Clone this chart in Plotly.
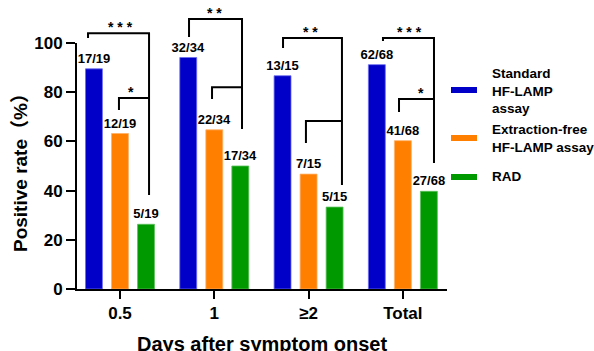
import plotly.graph_objects as go

# ---------------- data ----------------
categories = ["0.5", "1", "≥2", "Total"]
series_names = ["Standard<br>HF-LAMP<br>assay", "Extraction-free<br>HF-LAMP assay", "RAD"]
standard_vals = [89.5, 94.1, 86.7, 91.2]
extraction_vals = [63.2, 64.7, 46.7, 60.3]
rad_vals = [26.3, 50.0, 33.3, 39.7]
standard_labels = ["17/19", "32/34", "13/15", "62/68"]
extraction_labels = ["12/19", "22/34", "7/15", "41/68"]
rad_labels = ["5/19", "17/34", "5/15", "27/68"]
y_ticks = [0, 20, 40, 60, 80, 100]
sig_marks = ["* * *", "*", "* *", "", "* *", "", "* * *", "*"]
y_title = "Positive rate（%）"
x_title = "Days after symptom onset"

# ---------------- style ----------------
colors = ["#0000C8", "#FF7F00", "#009900"]
edge_colors = ["#6C6CF0", "#FFB066", "#5CC05C"]
FONT = "Arial, 'Liberation Sans', 'Noto Sans CJK SC', sans-serif"

W, H = 594, 351
M_L, M_R, M_T, M_B = 77, 147, 5, 62
PLOT_H = H - M_T - M_B
PX_PER_UNIT = 2.46
Y_DOMAIN_TOP = (100 * PX_PER_UNIT) / PLOT_H
Y2_MAX = PLOT_H / PX_PER_UNIT
X_RANGE = [-0.456, 3.468]

fig = go.Figure()
x_pos = list(range(len(categories)))
for vals, labels, name, c, ec in zip(
    [standard_vals, extraction_vals, rad_vals],
    [standard_labels, extraction_labels, rad_labels],
    series_names, colors, edge_colors,
):
    fig.add_trace(go.Bar(
        x=x_pos, y=vals, name=name, text=labels,
        textposition="outside", cliponaxis=False, constraintext="none",
        textangle=0,
        textfont=dict(family=FONT, size=13, color="black", weight="bold"),
        marker=dict(color=c, line=dict(color=ec, width=0.8)),
        showlegend=False,
    ))

# significance brackets: (x_left, y_left_bottom, y_top, x_right, y_right_bottom, star_x)
brackets = [
    (-0.339, 102.0, 104.0, 0.308, 38.2, 0.0),
    (-0.011, 72.8, 77.6, 0.308, 77.6, 0.117),
    (0.732, 102.4, 109.8, 1.294, 65.0, 1.007),
    (0.976, 77.2, 82.0, 1.294, 82.0, None),
    (1.729, 98.0, 102.0, 2.354, 42.3, 2.025),
    (1.972, 59.3, 68.3, 2.354, 68.3, None),
    (2.789, 100.8, 102.0, 3.33, 51.2, 3.07),
    (2.959, 72.0, 77.2, 3.33, 77.2, 3.19),
]
annotations = []
for (xl, yl, yt, xr, yr, sx), mark in zip(brackets, sig_marks):
    fig.add_trace(go.Scatter(
        x=[xl, xl, xr, xr], y=[yl, yt, yt, yr], mode="lines",
        line=dict(color="black", width=2), yaxis="y2",
        showlegend=False, hoverinfo="skip",
    ))
    if mark and sx is not None:
        annotations.append(dict(
            x=sx, y=yt, xref="x", yref="y2", text=mark, showarrow=False,
            yanchor="bottom", xanchor="center", yshift=-4,
            font=dict(family=FONT, size=14, color="black", weight="bold"),
        ))

def px_to_paper_x(p):
    return (p - M_L) / (W - M_L - M_R)

def px_to_paper_y(q):
    return (H - M_B - q) / PLOT_H

# manual legend
shapes = []
legend_rows = [(90, 91), (138, 138), (177, 176)]
for (sw_y, tx_y), name, c in zip(legend_rows, series_names, colors):
    shapes.append(dict(
        type="rect", xref="paper", yref="paper",
        x0=px_to_paper_x(451), x1=px_to_paper_x(477),
        y0=px_to_paper_y(sw_y + 3), y1=px_to_paper_y(sw_y - 3),
        fillcolor=c, line=dict(width=0),
    ))
    annotations.append(dict(
        x=px_to_paper_x(490), y=px_to_paper_y(tx_y), xref="paper", yref="paper",
        text=name, showarrow=False, xanchor="left", yanchor="middle", align="left",
        font=dict(family=FONT, size=13.5, color="black", weight="bold"),
    ))

# axis titles as annotations
annotations.append(dict(
    x=px_to_paper_x(20), y=px_to_paper_y(168), xref="paper", yref="paper",
    text=y_title, textangle=-90, showarrow=False,
    xanchor="center", yanchor="middle",
    font=dict(family=FONT, size=19, color="black", weight="bold"),
))
annotations.append(dict(
    x=0.5, y=px_to_paper_y(344), xref="paper", yref="paper",
    text=x_title, showarrow=False, xanchor="center", yanchor="middle",
    font=dict(family=FONT, size=20, color="black", weight="bold"),
))

fig.update_layout(
    width=W, height=H,
    margin=dict(l=M_L, r=M_R, t=M_T, b=M_B, autoexpand=False),
    paper_bgcolor="white", plot_bgcolor="rgba(0,0,0,0)",
    barmode="group", bargap=0.172, bargroupgap=0.35,
    font=dict(family=FONT, color="black"),
    xaxis=dict(
        range=X_RANGE, tickvals=x_pos, ticktext=categories,
        showline=True, linecolor="black", linewidth=2, automargin=False,
        ticks="outside", ticklen=8, tickwidth=2, tickcolor="black",
        showgrid=False, zeroline=False,
        tickfont=dict(family=FONT, size=17, color="black", weight="bold"),
    ),
    yaxis=dict(
        domain=[0, Y_DOMAIN_TOP], range=[0, 100], tickvals=y_ticks,
        showline=True, linecolor="black", linewidth=2, automargin=False,
        ticks="outside", ticklen=9, tickwidth=2, tickcolor="black",
        showgrid=False, zeroline=False,
        tickfont=dict(family=FONT, size=17, color="black", weight="bold"),
    ),
    yaxis2=dict(domain=[0, 1], range=[0, Y2_MAX], anchor="x", visible=False,
                showgrid=False, zeroline=False, automargin=False),
    annotations=annotations,
    shapes=shapes,
)

fig.write_html("out.html", config={"displayModeBar": False},
               post_script="document.body.style.margin='0';")
